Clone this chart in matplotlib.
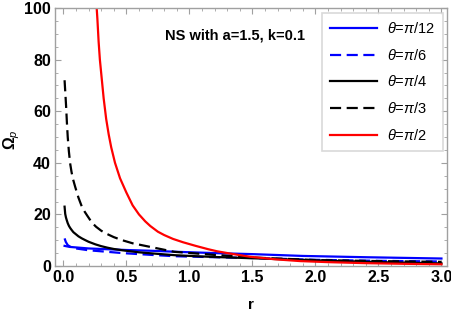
import matplotlib
matplotlib.use("Agg")
import matplotlib.pyplot as plt
from matplotlib.ticker import MultipleLocator

plt.rcParams['font.family'] = ['Liberation Sans', 'DejaVu Sans']
plt.rcParams['mathtext.fontset'] = 'custom'
plt.rcParams['mathtext.rm'] = 'Liberation Sans'
plt.rcParams['mathtext.it'] = 'Liberation Sans:italic'
plt.rcParams['mathtext.bf'] = 'Liberation Sans:bold'

# ---- data ----
r_pi12 = [0.01, 0.05, 0.1, 0.2, 0.3, 0.5, 0.7, 0.9, 1.2, 1.5, 1.9, 2.4, 3.0]
w_pi12 = [7.8, 7.4, 7.2, 6.8, 6.6, 6.2, 5.9, 5.5, 5.0, 4.6, 3.9, 3.4, 2.9]

r_pi6 = [0.01, 0.02, 0.035, 0.06, 0.1, 0.2, 0.3, 0.47, 0.7, 0.88, 1.2, 1.5, 2.0, 2.5, 3.0]
w_pi6 = [10.7, 9.3, 8.1, 7.3, 6.8, 6.1, 5.7, 5.0, 4.3, 3.8, 3.4, 3.1, 2.4, 2.0, 1.75]

r_pi4 = [0.01, 0.015, 0.021, 0.027, 0.035, 0.045, 0.055, 0.067, 0.08, 0.1, 0.12,
         0.147, 0.175, 0.2, 0.254, 0.3, 0.35, 0.4, 0.467, 0.6, 0.75, 0.88, 1.05,
         1.2, 1.5, 2.0, 2.5, 3.0]
w_pi4 = [23, 20.2, 18.8, 17.8, 16.6, 15.5, 14.7, 13.9, 13.1, 12.3, 11.5,
         10.7, 10.0, 9.4, 8.4, 7.7, 7.1, 6.6, 6.1, 5.3, 4.7, 4.2, 3.8,
         3.5, 3.0, 2.2, 1.5, 1.0]

r_pi3 = [0.01, 0.016, 0.022, 0.028, 0.035, 0.044, 0.054, 0.065, 0.075, 0.094,
         0.12, 0.147, 0.17, 0.19, 0.227, 0.26, 0.3, 0.334, 0.4, 0.467, 0.55,
         0.68, 0.88, 1.2, 1.5, 2.0, 2.5, 3.0]
w_pi3 = [72, 67, 62, 56, 50, 44.5, 39.8, 36.5, 34, 30.7,
         26.5, 23, 21, 19.5, 16.8, 15.2, 13.7, 12.7, 11.2, 10.0, 8.8,
         7.5, 5.5, 4.3, 3.3, 2.3, 1.9, 1.6]

r_pi2 = [0.262, 0.27, 0.28, 0.29, 0.30, 0.32, 0.34, 0.36, 0.38, 0.41, 0.45, 0.5,
         0.55, 0.6, 0.65, 0.69, 0.75, 0.8, 0.87, 0.95, 1.05, 1.15, 1.22, 1.35,
         1.48, 1.68, 1.88, 2.1, 2.4, 2.7, 3.0]
w_pi2 = [102, 96, 87, 80, 75, 65, 57, 51, 46, 40, 34, 28.5,
         23.5, 20, 17.3, 15.5, 13.3, 12, 10.5, 9.2, 7.8, 6.5, 5.7, 4.6,
         3.6, 2.6, 1.9, 1.5, 1.1, 0.85, 0.65]

labels = [r'$\it{\theta}$=$\it{\pi}$/12', r'$\it{\theta}$=$\it{\pi}$/6',
          r'$\it{\theta}$=$\it{\pi}$/4', r'$\it{\theta}$=$\it{\pi}$/3',
          r'$\it{\theta}$=$\it{\pi}$/2']

W, H = 452, 316
fig = plt.figure(figsize=(W / 100, H / 100), dpi=100)
ax = fig.add_axes([55 / W, (H - 266) / H, (447 - 55) / W, (266 - 8) / H])

lw = 1.6
dash = (0, (5, 2.5))
ax.plot(r_pi12, w_pi12, color='#0000FF', lw=lw, label=labels[0])
ax.plot(r_pi6, w_pi6, color='#0000FF', lw=lw, linestyle=dash, label=labels[1])
ax.plot(r_pi4, w_pi4, color='black', lw=lw, label=labels[2])
ax.plot(r_pi3, w_pi3, color='black', lw=lw, linestyle=dash, label=labels[3])
ax.plot(r_pi2, w_pi2, color='#FF0000', lw=lw, label=labels[4])

ax.set_xlim(-0.066, 3.044)
ax.set_ylim(0, 100)

ax.xaxis.set_major_locator(MultipleLocator(0.5))
ax.xaxis.set_minor_locator(MultipleLocator(0.1))
ax.yaxis.set_major_locator(MultipleLocator(20))
ax.yaxis.set_minor_locator(MultipleLocator(5))
ax.xaxis.set_major_formatter(plt.FuncFormatter(lambda v, p: f"{v:.1f}"))
ax.yaxis.set_major_formatter(plt.FuncFormatter(lambda v, p: f"{v:.0f}"))

frame_col = '#a0a0a0'
for s in ax.spines.values():
    s.set_color(frame_col)
    s.set_linewidth(1.0)
ax.tick_params(which='both', direction='in', top=True, right=True, color=frame_col,
               labelsize=11.5, pad=3)
ax.tick_params(which='major', length=4.5, width=0.8)
ax.tick_params(which='minor', length=2.5, width=0.6)
for lab in ax.get_xticklabels() + ax.get_yticklabels():
    lab.set_fontweight('bold')

ax.set_xlabel('r', fontsize=11, fontweight='bold', labelpad=9)
ax.set_ylabel(r'$\mathbf{\Omega}_{\it{p}}$', fontsize=11.5)
ax.yaxis.set_label_coords(-0.085, 0.49)

ax.text(1.36, 89.5, 'NS with a=1.5, k=0.1', fontsize=10.5, fontweight='bold',
        ha='center', va='center')

leg = ax.legend(loc='upper right', bbox_to_anchor=(443 / W, (H - 13) / H),
                bbox_transform=fig.transFigure, fontsize=10.5, frameon=True,
                fancybox=False, handlelength=3.2, handletextpad=0.7,
                labelspacing=0.8, borderpad=0.55, borderaxespad=0)
leg.get_frame().set_edgecolor('#d0d0d0')
leg.get_frame().set_linewidth(1.2)

fig.savefig('out.png', dpi=100)
